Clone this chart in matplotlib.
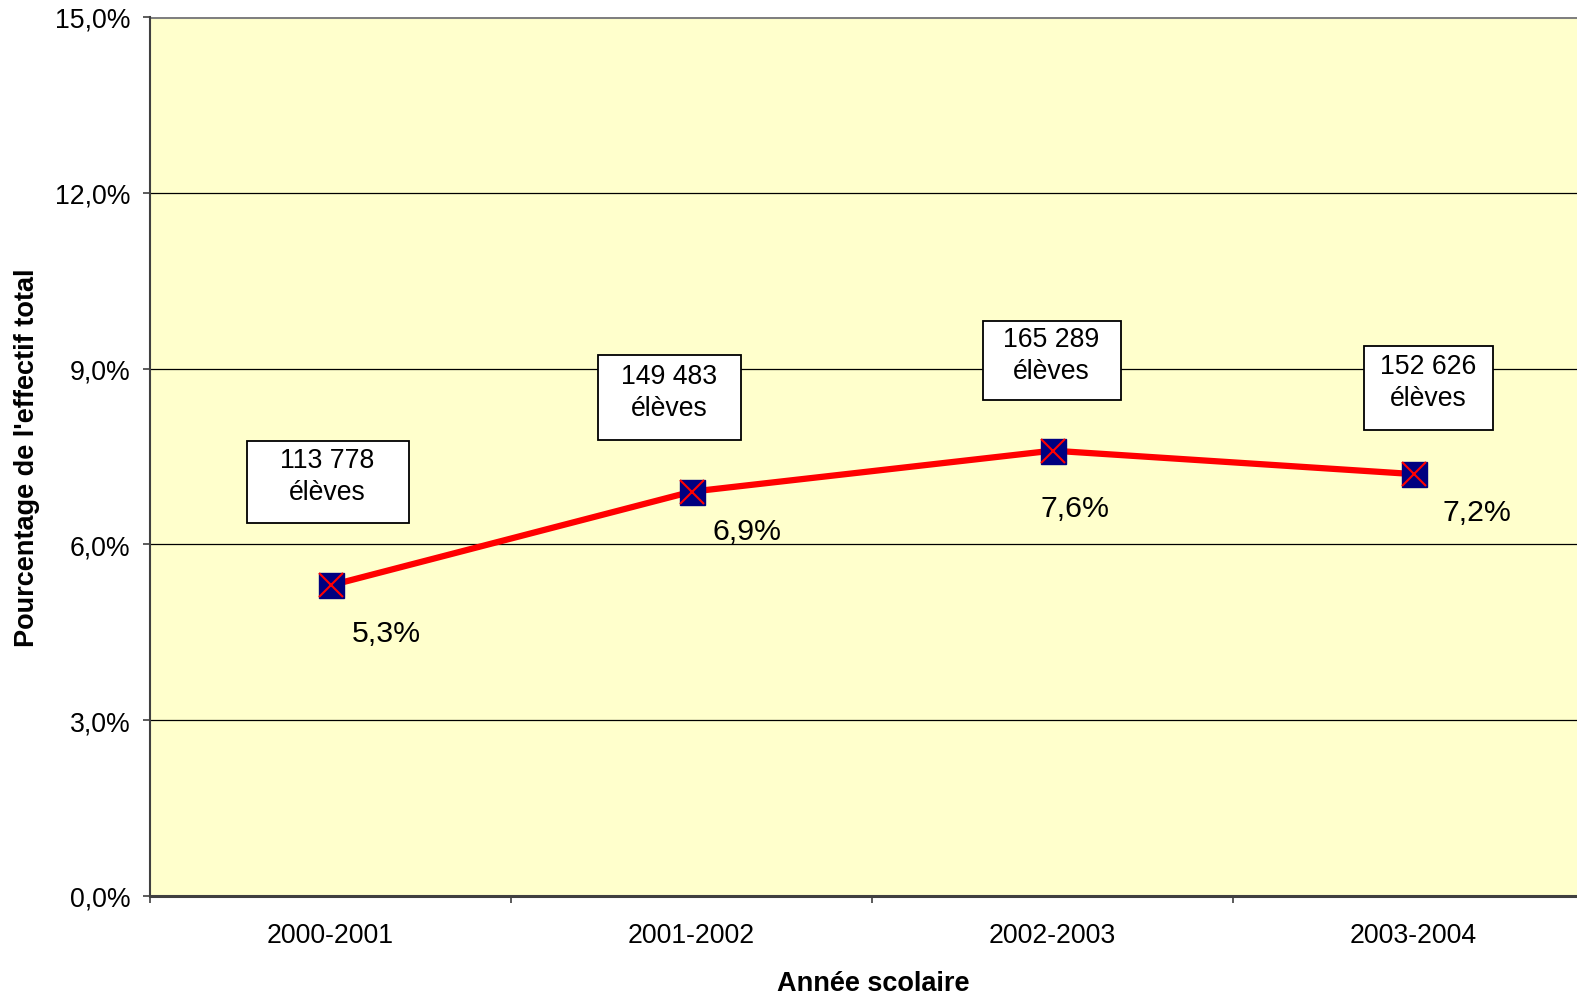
import matplotlib
matplotlib.use("Agg")
import matplotlib.pyplot as plt
from matplotlib.ticker import FixedLocator
from matplotlib.patches import Rectangle
from matplotlib.transforms import IdentityTransform

plt.rcParams['font.family'] = ['Liberation Sans', 'DejaVu Sans']

years = ["2000-2001", "2001-2002", "2002-2003", "2003-2004"]
pct = [5.3, 6.9, 7.6, 7.2]
pct_labels = ["5,3%", "6,9%", "7,6%", "7,2%"]
box_labels = ["113 778\nélèves", "149 483\nélèves", "165 289\nélèves", "152 626\nélèves"]
yticks = [0, 3, 6, 9, 12, 15]
ytick_labels = ["0,0%", "3,0%", "6,0%", "9,0%", "12,0%", "15,0%"]

W, H = 1577, 995
fig = plt.figure(figsize=(W/100, H/100), dpi=100)
L, R, T, B = 150, 1594, 18, 897
ax = fig.add_axes([L/W, 1-B/H, (R-L)/W, (B-T)/H])
ax.set_facecolor("#FFFFCC")

x = [i + 0.5 for i in range(len(years))]
ax.set_xlim(0, 4)
ax.set_ylim(0, 15)

for t in yticks[1:]:
    ax.axhline(t, color="black", lw=0.9, zorder=1)
ax.axhline(15, color="#808080", lw=2.2, zorder=1)

ax.plot(x, pct, color="#FF0000", lw=4.5, zorder=3, solid_capstyle="butt")
ax.plot(x, pct, ls="none", marker="s", ms=18, mfc="#000080", mec="#000080", zorder=4)
ax.plot(x, pct, ls="none", marker="x", ms=17, mec="#FF0000", mew=1.5, zorder=5)

# percentage labels (offset in pixels)
pct_off = [(56, -48), (56, -39), (23, -57), (63, -38)]
for xi, yi, lab, (dx, dy) in zip(x, pct, pct_labels, pct_off):
    ax.annotate(lab, (xi, yi), xytext=(dx, dy), textcoords="offset pixels",
                ha="center", va="center", fontsize=21.8, zorder=6)

# boxes: center offset from point and box size (pixels)
box_off = [(-3, 103), (-22, 94), (-1, 90), (15, 86)]
box_size = [(162, 82), (143, 85), (138, 79), (129, 84)]
for xi, yi, lab, (dx, dy), (bw, bh) in zip(x, pct, box_labels, box_off, box_size):
    px, py = ax.transData.transform((xi, yi))
    cx, cy = px + dx, py + dy
    rect = Rectangle((cx - bw/2, cy - bh/2), bw, bh, transform=IdentityTransform(),
                     fc="white", ec="black", lw=1.3, zorder=6, clip_on=False)
    ax.add_artist(rect)
    ax.annotate(lab, (xi, yi), xytext=(dx, dy + 6), textcoords="offset pixels",
                ha="center", va="center", fontsize=19.2, linespacing=1.3, zorder=7)

ax.yaxis.set_major_locator(FixedLocator(yticks))
ax.set_yticklabels(ytick_labels, fontsize=19.2)
ax.xaxis.set_major_locator(FixedLocator([0, 1, 2, 3, 4]))
ax.set_xticklabels([])
ax.xaxis.set_minor_locator(FixedLocator(x))
ax.set_xticklabels(years, minor=True, fontsize=19.2)
ax.tick_params(axis="x", which="minor", length=0, pad=19)
ax.tick_params(axis="both", which="major", direction="out", length=5, width=1.2, color="#404040")
ax.tick_params(axis="y", pad=9)

for s in ["top", "right"]:
    ax.spines[s].set_visible(False)
ax.spines["left"].set_color("#404040")
ax.spines["left"].set_linewidth(1.5)
ax.spines["bottom"].set_color("#404040")
ax.spines["bottom"].set_linewidth(2.2)

fig.text(873/W, 1-984/H, "Année scolaire", ha="center", va="center",
         fontsize=19.5, fontweight="bold")
fig.text(27/W, 1-458/H, "Pourcentage de l'effectif total", ha="center", va="center",
         rotation=90, fontsize=19.5, fontweight="bold")

fig.savefig("out.png", dpi=100, facecolor="white")
